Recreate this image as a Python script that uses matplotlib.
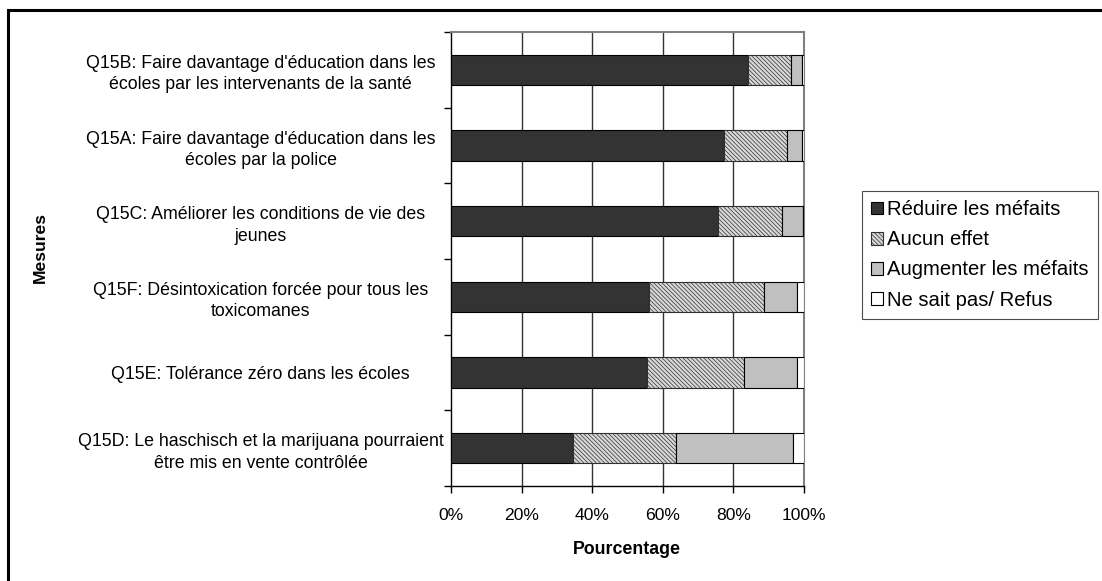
import matplotlib
matplotlib.use("Agg")
import matplotlib.pyplot as plt
from matplotlib.patches import Rectangle
import numpy as np

plt.rcParams['font.family'] = ['Liberation Sans', 'DejaVu Sans']
plt.rcParams['hatch.linewidth'] = 0.5

categories = [
    "Q15B: Faire davantage d'éducation dans les\nécoles par les intervenants de la santé",
    "Q15A: Faire davantage d'éducation dans les\nécoles par la police",
    "Q15C: Améliorer les conditions de vie des\njeunes",
    "Q15F: Désintoxication forcée pour tous les\ntoxicomanes",
    "Q15E: Tolérance zéro dans les écoles",
    "Q15D: Le haschisch et la marijuana pourraient\nêtre mis en vente contrôlée",
]
reduire = [84.2, 77.4, 75.5, 56.2, 55.5, 34.5]
aucun = [12.1, 17.7, 18.2, 32.4, 27.4, 29.3]
augmenter = [3.2, 4.2, 6.0, 9.5, 15.2, 33.0]
nsp = [0.5, 0.7, 0.3, 1.9, 1.9, 3.2]
series_names = ["Réduire les méfaits", "Aucun effet", "Augmenter les méfaits", "Ne sait pas/ Refus"]
xticks = [0, 20, 40, 60, 80, 100]
xticklabels = ["0%", "20%", "40%", "60%", "80%", "100%"]

W, H = 1102, 581
fig = plt.figure(figsize=(W/100, H/100), dpi=100)
ax = fig.add_axes([451/W, 1-486/H, (804-451)/W, (486-32)/H])

n = len(categories)
y = np.arange(n)[::-1]
bh = 0.40
styles = [
    dict(color='#333333', edgecolor='black'),
    dict(color='#d8d8d8', edgecolor='#303030', hatch='\\\\\\\\\\\\\\\\'),
    dict(color='#c0c0c0', edgecolor='black'),
    dict(color='white', edgecolor='black'),
]
left = np.zeros(n)
handles = []
for vals, name, st in zip([reduire, aucun, augmenter, nsp], series_names, styles):
    b = ax.barh(y, vals, left=left, height=bh, linewidth=0.8, label=name, zorder=3, **st)
    handles.append(b)
    left += np.array(vals)

ax.set_xlim(0, 100)
ax.set_ylim(-0.5, n-0.5)
ax.set_xticks(xticks)
ax.set_xticklabels(xticklabels, fontsize=12.6)
ax.set_yticks(y)
ax.set_yticklabels(categories, fontsize=12.8, ha='center', linespacing=1.35)
ax.tick_params(axis='y', length=0, pad=137)
ax.set_yticks(np.arange(n+1) - 0.5, minor=True)
ax.tick_params(axis='y', which='minor', length=5, width=1, direction='out')
ax.tick_params(axis='x', length=5, width=1, direction='out', pad=11)
for g in [20, 40, 60, 80]:
    ax.axvline(g, color='#333333', linewidth=1, zorder=1)
for s in ['left', 'bottom']:
    ax.spines[s].set_color('black')
    ax.spines[s].set_linewidth(1)
for s in ['top', 'right']:
    ax.spines[s].set_color('#808080')
    ax.spines[s].set_linewidth(1.5)

fig.text(40/W, 1-248/H, "Mesures", rotation=90, fontsize=12.6, fontweight='bold', ha='center', va='center')
fig.text(627/W, 1-550/H, "Pourcentage", fontsize=12.8, fontweight='bold', ha='center', va='center')

leg = fig.legend(handles=handles, loc='upper left', bbox_to_anchor=(862/W, 1-191/H),
                 fontsize=14.6, frameon=True, fancybox=False, edgecolor='#202020',
                 handlelength=0.6, handleheight=0.6, handletextpad=0.2,
                 labelspacing=0.55, borderpad=0.45, borderaxespad=0)
leg.get_frame().set_linewidth(0.8)

fig.patches.append(Rectangle((8/W, -0.1), 1.2, 1-10/H+0.1, transform=fig.transFigure,
                             fill=False, edgecolor='black', linewidth=2.2))

fig.savefig('out.png', dpi=100)
